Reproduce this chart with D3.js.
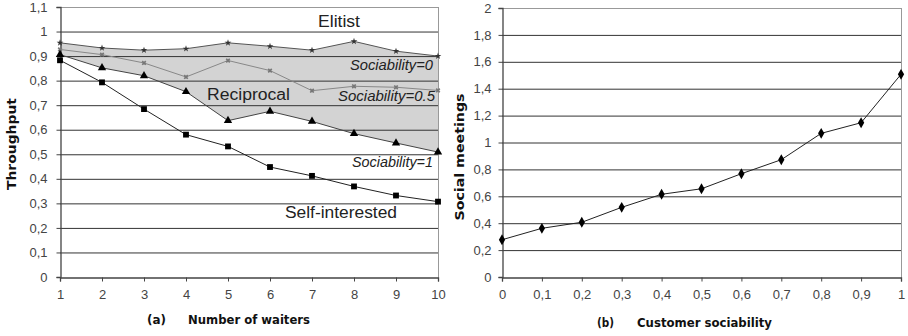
<!DOCTYPE html>
<html><head><meta charset="utf-8">
<script src="https://cdn.jsdelivr.net/npm/d3@7"></script>
<style>body{margin:0;background:#fff}svg{display:block;font-family:Arial,"Liberation Sans",sans-serif}</style>
</head><body><svg id="c" width="908" height="336"></svg>
<script>
const waiters = [1,2,3,4,5,6,7,8,9,10];
const elitist = [0.954,0.933,0.924,0.93,0.954,0.94,0.924,0.96,0.92,0.90];
const soc05 = [0.927,0.906,0.872,0.815,0.882,0.841,0.759,0.777,0.773,0.76];
const soc1 = [0.906,0.852,0.82,0.755,0.637,0.675,0.634,0.584,0.546,0.509];
const selfInterested = [0.883,0.793,0.684,0.58,0.532,0.448,0.412,0.369,0.332,0.307];
const leftYTicks = [0,0.1,0.2,0.3,0.4,0.5,0.6,0.7,0.8,0.9,1,1.1];
const sociability = [0,0.1,0.2,0.3,0.4,0.5,0.6,0.7,0.8,0.9,1];
const meetings = [0.277,0.362,0.407,0.518,0.615,0.656,0.768,0.872,1.068,1.147,1.507];
const rightYTicks = [0,0.2,0.4,0.6,0.8,1,1.2,1.4,1.6,1.8,2];

const svg = d3.select("#c");
const fmt = v => String(+v.toFixed(1)).replace(".", ",");
const gridCol = "#333", axisCol = "#444", txtCol = "#444";

function grid(y, yTicks, x0, x1, y0, y1) {
  svg.append("g").selectAll("line").data(yTicks.slice(1)).join("line")
    .attr("x1", x0).attr("x2", x1).attr("y1", d => y(d)+0.5).attr("y2", d => y(d)+0.5)
    .attr("stroke", (d,i) => i === yTicks.length-2 ? "#999" : gridCol).attr("stroke-width", 1);
  svg.append("line").attr("x1", x1+0.5).attr("x2", x1+0.5).attr("y1", y1).attr("y2", y0).attr("stroke", "#999");
}
function styleAxis(a) {
  a.select(".domain").attr("stroke", axisCol).attr("stroke-width", 1.3);
  a.selectAll(".tick line").attr("stroke", axisCol);
  a.selectAll("text").attr("font-size", 13).attr("fill", txtCol).attr("font-family", "Arial, 'Liberation Sans', sans-serif");
}
const lbl = (t, x, y, size, anchor, italic, len) => {
  const e = svg.append("text").attr("x", x).attr("y", y).attr("font-size", size).attr("text-anchor", anchor)
    .attr("font-style", italic ? "italic" : "normal").attr("fill", "#222").text(t);
  if (len) e.attr("textLength", len).attr("lengthAdjust", "spacingAndGlyphs");
  return e;
};
const title = (t, x, y, len, rot) => {
  const e = svg.append("text").attr("font-size", 12).attr("font-weight", "bold").attr("fill", "#111")
    .attr("font-family", "'DejaVu Sans', Verdana, sans-serif")
    .attr("textLength", len).attr("lengthAdjust", "spacingAndGlyphs").text(t);
  if (rot) e.attr("transform", `translate(${x},${y}) rotate(-90)`).attr("text-anchor", "middle");
  else e.attr("x", x).attr("y", y);
};

// LEFT CHART
const xL = d3.scaleLinear().domain([1,10]).range([60,438]);
const yL = d3.scaleLinear().domain([0,1.1]).range([277,7]);

const area = d3.area().x((d,i) => xL(waiters[i])).y0((d,i) => yL(soc1[i])).y1(d => yL(d));
svg.append("path").datum(elitist).attr("d", area).attr("fill", "#d3d3d3");
grid(yL, leftYTicks, 60, 438, 277, 7);

styleAxis(svg.append("g").attr("transform", "translate(60.5,0)")
  .call(d3.axisLeft(yL).tickValues(leftYTicks).tickFormat(fmt).tickSize(4).tickPadding(9)));
styleAxis(svg.append("g").attr("transform", "translate(0,277.5)")
  .call(d3.axisBottom(xL).tickValues(waiters).tickFormat(d3.format("d")).tickSize(4).tickPadding(8)));

const lineL = d3.line().x((d,i) => xL(waiters[i])).y(d => yL(d));
function series(data, color, width) {
  svg.append("path").datum(data).attr("d", lineL).attr("fill", "none").attr("stroke", color).attr("stroke-width", width);
}
series(elitist, "#555", 1);
series(soc05, "#888", 1);
series(soc1, "#444", 1);
series(selfInterested, "#222", 1);

const xi = i => xL(waiters[i]);
const sym = (type, size, data, color) =>
  svg.append("g").selectAll("path").data(data).join("path")
    .attr("transform", (d,i) => `translate(${xi(i)},${yL(d)})`)
    .attr("d", d3.symbol(type, size)).attr("fill", color);
sym(d3.symbolStar, 14, elitist, "#333");
svg.append("g").selectAll("path").data(soc05).join("path")
  .attr("transform", (d,i) => `translate(${xi(i)},${yL(d)}) rotate(45)`)
  .attr("d", d3.symbol(d3.symbolCross, 14)).attr("fill", "#777");
sym(d3.symbolTriangle, 30, soc1, "#000");
sym(d3.symbolSquare, 34, selfInterested, "#000");

lbl("Elitist", 318, 27, 16, "start", false, 42);
lbl("Sociability=0", 350, 70, 14, "start", true, 83);
lbl("Reciprocal", 207, 100, 16, "start", false, 83);
lbl("Sociability=0.5", 338, 101, 14, "start", true, 97);
lbl("Sociability=1", 352, 167, 14, "start", true, 81);
lbl("Self-interested", 285, 218, 16, "start", false, 112);

title("Throughput", 16, 144, 92, true);
title("(a)", 147, 324, 19);
title("Number of waiters", 188, 324, 122);

// RIGHT CHART
const xR = d3.scaleLinear().domain([0,1]).range([502,901]);
const yR = d3.scaleLinear().domain([0,2]).range([277,8]);
grid(yR, rightYTicks, 502, 901, 277, 8);
styleAxis(svg.append("g").attr("transform", "translate(502.5,0)")
  .call(d3.axisLeft(yR).tickValues(rightYTicks).tickFormat(fmt).tickSize(4).tickPadding(7)));
styleAxis(svg.append("g").attr("transform", "translate(0,277.5)")
  .call(d3.axisBottom(xR).tickValues(sociability).tickFormat(fmt).tickSize(4).tickPadding(8)));
svg.append("path").datum(meetings)
  .attr("d", d3.line().x((d,i) => xR(sociability[i])).y(d => yR(d)))
  .attr("fill", "none").attr("stroke", "#222").attr("stroke-width", 1);
svg.append("g").selectAll("path").data(meetings).join("path")
  .attr("transform", (d,i) => `translate(${xR(sociability[i])},${yR(d)})`)
  .attr("d", d3.symbol(d3.symbolDiamond, 34)).attr("fill", "#000");

title("Social meetings", 464, 157, 127, true);
title("(b)", 597, 327, 17);
title("Customer sociability", 637, 327, 135);
</script></body></html>
